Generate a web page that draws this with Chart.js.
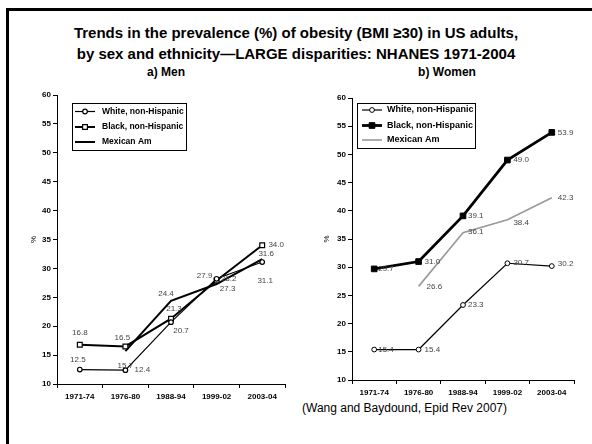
<!DOCTYPE html>
<html>
<head>
<meta charset="utf-8">
<script src="https://cdn.jsdelivr.net/npm/chart.js@4.4.0/dist/chart.umd.min.js"></script>
<style>
  html, body { margin: 0; padding: 0; background: #fff; }
  body { width: 592px; height: 444px; position: relative; overflow: hidden; font-family: "Liberation Sans", Arial, sans-serif; }
  .frame { position: absolute; left: 6px; top: 8px; width: 700px; height: 600px; border-left: 3px solid #000; border-top: 3px solid #000; }
  canvas { position: absolute; left: 0; top: 0; }
  .title { position: absolute; left: 0; width: 592px; top: 22px; text-align: center; font-weight: bold; font-size: 15px; line-height: 21px; color: #000; }
  .sub { position: absolute; top: 65px; font-weight: bold; font-size: 12px; line-height: 15px; width: 200px; text-align: center; }
  .src { position: absolute; left: 302px; top: 399px; font-size: 12px; line-height: 18px; }
</style>
</head>
<body>
<div class="frame"></div>
<div class="title">Trends in the prevalence (%) of obesity (BMI ≥30) in US adults,<br>by sex and ethnicity—LARGE disparities: NHANES 1971-2004</div>
<div class="sub" style="left:66px">a) Men</div>
<div class="sub" style="left:347px">b) Women</div>
<div class="src">(Wang and Baydound, Epid Rev 2007)</div>
<canvas id="men" width="592" height="444"></canvas>
<canvas id="women" width="592" height="444"></canvas>
<script>
// ---- data ----
const periods = ["1971-74", "1976-80", "1988-94", "1999-02", "2003-04"];
const seriesNames = ["White, non-Hispanic", "Black, non-Hispanic", "Mexican Am"];
const menWhite = [12.5, 12.4, 20.7, 28.2, 31.1];
const menBlack = [16.8, 16.5, 21.3, 27.9, 34.0];
const menMexican = [null, 15.7, 24.4, 27.3, 31.6];
const womenWhite = [15.4, 15.4, 23.3, 30.7, 30.2];
const womenBlack = [29.7, 31.0, 39.1, 49.0, 53.9];
const womenMexican = [null, 26.6, 36.1, 38.4, 42.3];
const yTicks = { min: 10, max: 60, step: 5 };

// ---- label placement (style, not data): [dx, dy, align] ----
const menLabelPos = [
  [[-2,-10,'center'],[17,0,'center'],[10,9,'center'],[12,0,'center'],[3,19,'center']],
  [[0,-12,'center'],[-3,-9,'center'],[3,-10,'center'],[-12,-5,'center'],[14,0,'center']],
  [null,[0,15,'center'],[-5,-7,'center'],[11,5,'center'],[4,-5,'center']]
];
const womenLabelPos = [
  [[4,0,'left'],[6,0,'left'],[5,0,'left'],[6,0,'left'],[6,-2,'left']],
  [[4,0,'left'],[6,0,'left'],[5,0,'left'],[6,0,'left'],[6,0,'left']],
  [null,[8,0,'left'],[5,-1,'left'],[6,3,'left'],[6,0,'left']]
];

const FONT = '"Liberation Sans", Arial, sans-serif';

const labelPlugin = {
  id: 'pointLabels',
  afterDatasetsDraw(chart, args, opts) {
    const ctx = chart.ctx;
    ctx.save();
    ctx.font = '8px ' + FONT;
    ctx.fillStyle = '#444';
    ctx.textBaseline = 'middle';
    chart.data.datasets.forEach((ds, di) => {
      const meta = chart.getDatasetMeta(di);
      meta.data.forEach((pt, i) => {
        const v = ds.data[i];
        const pos = opts.positions[di][i];
        if (v == null || !pos) return;
        ctx.textAlign = pos[2];
        ctx.fillText(v.toFixed(1), pt.x + pos[0], pt.y + pos[1]);
      });
    });
    ctx.restore();
  }
};

function drawMarker(ctx, style, r, x, y) {
  if (style === 'rect') {
    const s = r * Math.SQRT1_2;
    ctx.rect(x - s, y - s, 2 * s, 2 * s);
  } else {
    ctx.arc(x, y, r, 0, Math.PI * 2);
  }
}

const boxLegendPlugin = {
  id: 'boxLegend',
  afterDraw(chart, args, opts) {
    const ctx = chart.ctx;
    const b = opts.box;
    ctx.save();
    ctx.fillStyle = '#fff';
    ctx.fillRect(b.x, b.y, b.w, b.h);
    ctx.strokeStyle = '#000';
    ctx.lineWidth = 1;
    ctx.strokeRect(b.x + 0.5, b.y + 0.5, b.w, b.h);
    ctx.font = 'bold ' + opts.fontSize + 'px ' + FONT;
    ctx.textBaseline = 'middle';
    ctx.textAlign = 'left';
    chart.data.datasets.forEach((ds, di) => {
      const y = b.y + opts.rows[di];
      const x0 = b.x + opts.lineX0, x1 = b.x + opts.lineX1;
      ctx.strokeStyle = ds.borderColor;
      ctx.lineWidth = ds.borderWidth;
      ctx.beginPath(); ctx.moveTo(x0, y); ctx.lineTo(x1, y); ctx.stroke();
      if (ds.pointRadius > 0) {
        ctx.fillStyle = ds.pointBackgroundColor;
        ctx.strokeStyle = ds.borderColor;
        ctx.lineWidth = ds.pointBorderWidth || 1;
        ctx.beginPath();
        drawMarker(ctx, ds.pointStyle, ds.pointRadius, (x0 + x1) / 2, y);
        ctx.fill(); ctx.stroke();
      }
      ctx.fillStyle = '#000';
      ctx.fillText(seriesNames[di], b.x + opts.textX, y);
    });
    // y axis title "%"
    ctx.save();
    ctx.translate(opts.pctX, (chart.chartArea.top + chart.chartArea.bottom) / 2);
    ctx.rotate(-Math.PI / 2);
    ctx.textAlign = 'center';
    ctx.font = '8px ' + FONT;
    ctx.fillStyle = '#000';
    ctx.fillText('%', 0, 0);
    ctx.restore();
    ctx.restore();
  }
};

function makeOptions(pad, positions, legendCfg) {
  return {
    responsive: false,
    animation: false,
    events: [],
    layout: { padding: pad },
    plugins: {
      legend: { display: false },
      tooltip: { enabled: false },
      pointLabels: { positions },
      boxLegend: legendCfg
    },
    scales: {
      x: {
        type: 'category',
        offset: true,
        afterFit(s) { s.height = 30; },
        border: { color: '#000', width: 1 },
        grid: { offset: true, drawOnChartArea: false, drawTicks: true, tickLength: 4, color: '#000' },
        ticks: { color: '#000', font: { family: FONT, size: 8, weight: 'bold' }, padding: 4, maxRotation: 0, autoSkip: false }
      },
      y: {
        min: yTicks.min, max: yTicks.max,
        afterFit(s) { s.width = 30; },
        border: { color: '#000', width: 1 },
        grid: { drawOnChartArea: false, drawTicks: true, tickLength: 4, color: '#000' },
        ticks: { stepSize: yTicks.step, color: '#000', font: { family: FONT, size: 8, weight: 'bold' }, padding: 2 }
      }
    }
  };
}

new Chart(document.getElementById('men'), {
  type: 'line',
  data: {
    labels: periods,
    datasets: [
      { data: menWhite, borderColor: '#000', borderWidth: 1.2, pointStyle: 'circle', pointRadius: 2.3,
        pointBackgroundColor: '#fff', pointBorderColor: '#000', pointBorderWidth: 1.2, tension: 0 },
      { data: menBlack, borderColor: '#000', borderWidth: 2, pointStyle: 'rect', pointRadius: 3.4,
        pointBackgroundColor: '#fff', pointBorderColor: '#000', pointBorderWidth: 1.2, tension: 0 },
      { data: menMexican, borderColor: '#000', borderWidth: 2, pointRadius: 0, tension: 0 }
    ]
  },
  options: makeOptions({ left: 27, right: 307, top: 95, bottom: 30 }, menLabelPos, {
    box: { x: 72, y: 103, w: 114, h: 47 }, rows: [8.5, 24, 39], lineX0: 3, lineX1: 23, textX: 30, fontSize: 8.5, pctX: 34
  }),
  plugins: [labelPlugin, boxLegendPlugin]
});

new Chart(document.getElementById('women'), {
  type: 'line',
  data: {
    labels: periods,
    datasets: [
      { data: womenWhite, borderColor: '#000', borderWidth: 1.2, pointStyle: 'circle', pointRadius: 2.4,
        pointBackgroundColor: '#fff', pointBorderColor: '#000', pointBorderWidth: 1, tension: 0 },
      { data: womenBlack, borderColor: '#000', borderWidth: 2.8, pointStyle: 'rect', pointRadius: 4,
        pointBackgroundColor: '#000', pointBorderColor: '#000', pointBorderWidth: 1, tension: 0 },
      { data: womenMexican, borderColor: '#999', borderWidth: 1.6, pointRadius: 0, tension: 0 }
    ]
  },
  options: makeOptions({ left: 322, right: 18, top: 98, bottom: 34 }, womenLabelPos, {
    box: { x: 357, y: 103, w: 118, h: 45 }, rows: [7, 22.5, 37], lineX0: 5, lineX1: 25, textX: 30, fontSize: 9, pctX: 327
  }),
  plugins: [labelPlugin, boxLegendPlugin]
});
</script>
</body>
</html>
